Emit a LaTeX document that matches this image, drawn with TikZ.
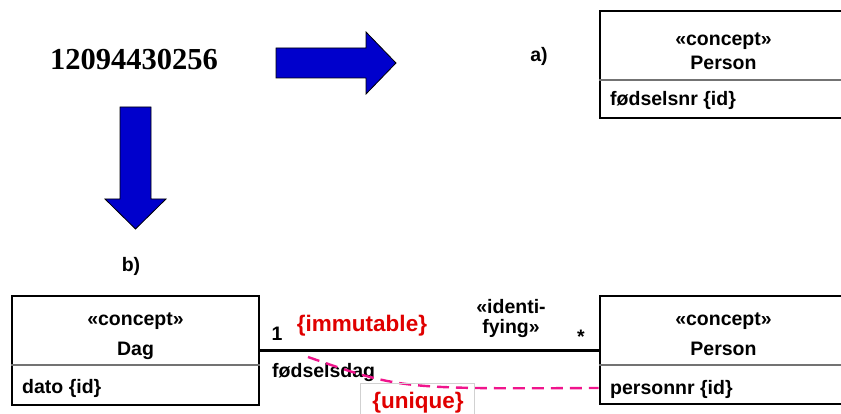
\documentclass[tikz,border=0pt]{standalone}
\usepackage{fontspec}
\setmainfont{Liberation Sans}
\newfontfamily\numberfont{Liberation Serif}
\definecolor{arrowblue}{RGB}{0,0,204}
\definecolor{constraintred}{RGB}{224,0,0}
\definecolor{linkpink}{RGB}{240,20,140}
\begin{document}
\begin{tikzpicture}[x=1pt,y=-1pt,
  classbox/.style={draw=black, line width=2.6pt, minimum width=247pt, inner sep=0pt},
  divider/.style={draw=black!55, line width=1.4pt},
  lbl/.style={font=\bfseries\fontsize{19.5}{22}\selectfont, inner sep=0pt, anchor=base},
  redlbl/.style={font=\bfseries\fontsize{22.5}{26}\selectfont, text=constraintred, inner sep=0pt, anchor=base},
  blockarrow/.style={fill=arrowblue, draw=black, line width=0.8pt},
  assoc/.style={line width=2.4pt},
  link/.style={draw=linkpink, line width=2.4pt, dash pattern=on 12pt off 7pt}]
\useasboundingbox (0,0) rectangle (841,414);
\clip (0,0) rectangle (841,414);

% the number and the two block arrows
\node[font=\numberfont\bfseries\fontsize{30.5}{34}\selectfont, inner sep=0pt, anchor=base] (number) at (134,70) {12094430256};
\fill[blockarrow] (276,48) -- (366,48) -- (366,32) -- (396,63) -- (366,94) -- (366,78) -- (276,78) -- cycle;
\fill[blockarrow] (120,107) -- (151,107) -- (151,199) -- (166,199) -- (135.5,229) -- (105,199) -- (120,199) -- cycle;

\node[lbl] (labela) at (539,62) {a)};
\node[lbl] (labelb) at (131,272) {b)};

% a) Person with a single identifying attribute
\node[classbox, minimum height=107pt] (persona) at (723.5,64.5) {};
\draw[divider] (persona.west |- 0,80) -- (persona.east |- 0,80);
\node[lbl] (personaster) at (723.5,46) {«concept»};
\node[lbl] (personaname) at (723.5,70) {Person};
\node[lbl, anchor=base west] (personaattr) at (610,106) {fødselsnr \{id\}};

% b) Dag -- Person
\node[classbox, minimum height=109pt] (dag) at (135.5,350.5) {};
\draw[divider] (dag.west |- 0,365) -- (dag.east |- 0,365);
\node[lbl] (dagster) at (135.5,325) {«concept»};
\node[lbl] (dagname) at (135.5,355) {Dag};
\node[lbl, anchor=base west] (dagattr) at (22,393) {dato \{id\}};

\node[classbox, minimum height=108pt] (personb) at (723.5,350) {};
\draw[divider] (personb.west |- 0,365) -- (personb.east |- 0,365);
\node[lbl] (personbster) at (723.5,325) {«concept»};
\node[lbl] (personbname) at (723.5,355) {Person};
\node[lbl, anchor=base west] (personbattr) at (610,394) {personnr \{id\}};

% identifying association
\draw[assoc] (dag.east) -- (dag.east -| personb.west);
\node[lbl] (mult1) at (277,340) {1};
\node[lbl] (multstar) at (581,343) {*};
\node[redlbl] (immutable) at (362,331) {\{immutable\}};
\node[lbl, align=center, font=\bfseries\fontsize{19.5}{20}\selectfont] (identifying) at (511,333) {«identi-\\fying»};
\node[lbl, anchor=base west] (rolename) at (272,377) {fødselsdag};

% uniqueness constraint between role and attribute
\coordinate (linkstart) at (308,357);
\draw[link] (linkstart) .. controls (400,389) .. (personb.west |- 0,388);
\draw[draw=black!18, line width=1pt] (360,430) |- (474,383) -- (474,430);
\node[redlbl] (unique) at (418,408) {\{unique\}};
\end{tikzpicture}
\end{document}
